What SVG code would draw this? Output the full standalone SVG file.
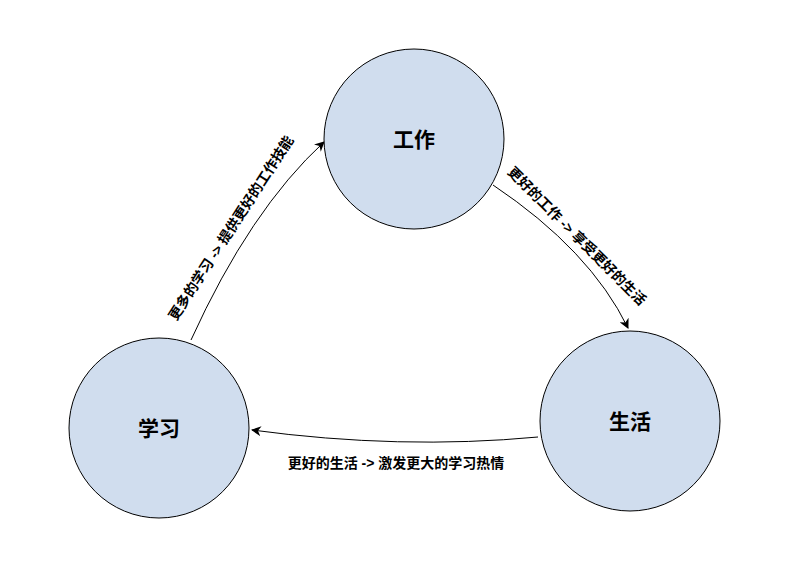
<svg xmlns="http://www.w3.org/2000/svg" width="804" height="570" viewBox="0 0 804 570">
<defs>
<style>
.node{fill:#d0ddee;stroke:#000;stroke-width:1}
.nt{font-family:"Liberation Sans","Noto Sans CJK SC",sans-serif;font-size:21px;font-weight:bold;fill:#000;text-anchor:middle;dominant-baseline:central}
.el{font-family:"Liberation Sans","Noto Sans CJK SC",sans-serif;font-size:14px;font-weight:bold;fill:#000;text-anchor:middle;dominant-baseline:central}
.edge{fill:none;stroke:#000;stroke-width:1;marker-end:url(#arr)}
</style>
<marker id="arr" viewBox="0 0 10 10" refX="9" refY="5" markerWidth="10" markerHeight="10" markerUnits="userSpaceOnUse" orient="auto">
<path d="M0,0 L10,5 L0,10 L3,5 Z" fill="#000"/>
</marker>
</defs>
<rect width="804" height="570" fill="#fff"/>
<g id="connectors">
<path class="edge" d="M191,340 Q250,210 324,142"/>
<path class="edge" d="M493,185 Q590,250 628,328"/>
<path class="edge" d="M538,437 Q400,450 252,430"/>
</g>
<g id="edge-labels">
<text class="el" transform="translate(231,228) rotate(-57)">更多的学习 -&gt; 提供更好的工作技能</text>
<text class="el" transform="translate(577,236) rotate(45)">更好的工作 -&gt; 享受更好的生活</text>
<text class="el" x="396" y="463">更好的生活 -&gt; 激发更大的学习热情</text>
</g>
<g id="node-work">
<circle class="node" cx="414" cy="139" r="90"/>
<text class="nt" x="414" y="139">工作</text>
</g>
<g id="node-study">
<circle class="node" cx="159" cy="428" r="90"/>
<text class="nt" x="159" y="428">学习</text>
</g>
<g id="node-life">
<circle class="node" cx="630" cy="421" r="90"/>
<text class="nt" x="630" y="421">生活</text>
</g>
</svg>
